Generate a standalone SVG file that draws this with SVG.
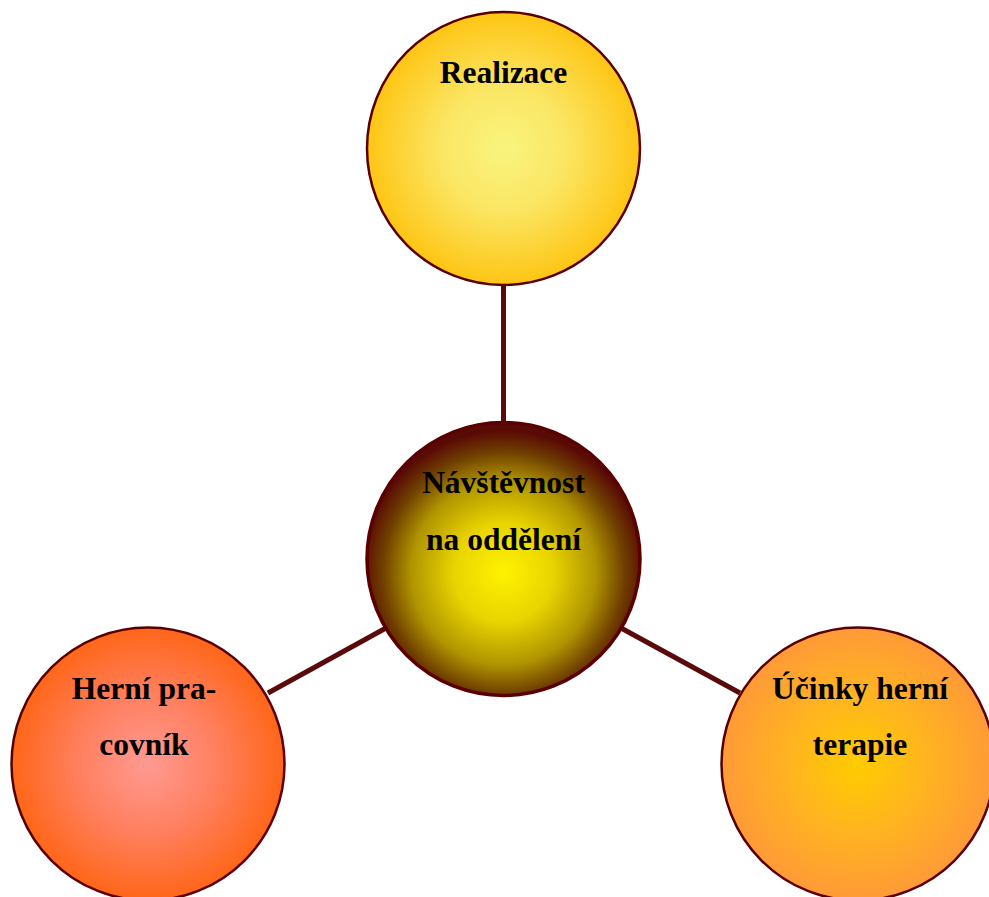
<svg xmlns="http://www.w3.org/2000/svg" width="989" height="897" viewBox="0 0 989 897">
<style>
.node circle{stroke:#5a0000;stroke-width:2.5}
.lbl{font-family:"Liberation Serif","Times New Roman",serif;font-weight:bold;font-size:31.5px;fill:#000;text-anchor:middle}
.conn line{stroke:#5a0a0a;stroke-width:5}
</style>
<defs>
<radialGradient id="gTop" cx="50%" cy="50%" r="50%">
<stop offset="0" stop-color="#f9f47e"/><stop offset="0.45" stop-color="#fbe664"/><stop offset="1" stop-color="#fec514"/>
</radialGradient>
<radialGradient id="gCenter" cx="50%" cy="55%" r="52%">
<stop offset="0" stop-color="#fff200"/><stop offset="0.35" stop-color="#e8d400"/><stop offset="0.65" stop-color="#b09400"/><stop offset="0.85" stop-color="#704000"/><stop offset="1" stop-color="#5a0a05"/>
</radialGradient>
<radialGradient id="gLeft" cx="50%" cy="50%" r="50%">
<stop offset="0" stop-color="#ff9a92"/><stop offset="0.5" stop-color="#ff8060"/><stop offset="1" stop-color="#ff6618"/>
</radialGradient>
<radialGradient id="gRight" cx="50%" cy="50%" r="50%">
<stop offset="0" stop-color="#ffcc00"/><stop offset="0.5" stop-color="#ffb420"/><stop offset="1" stop-color="#ff9a38"/>
</radialGradient>
</defs>
<g class="conn" id="connectors">
<line x1="503.5" y1="285" x2="503.5" y2="422"/>
<line x1="268" y1="693" x2="386" y2="628"/>
<line x1="621" y1="628" x2="740" y2="693"/>
</g>
<g class="node" id="node-realizace">
<circle cx="503.5" cy="148.5" r="136.5" fill="url(#gTop)"/>
<text class="lbl" x="503.5" y="83">Realizace</text>
</g>
<g class="node" id="node-navstevnost">
<circle cx="503.5" cy="559" r="136.5" fill="url(#gCenter)" style="stroke-width:3.5"/>
<text class="lbl" x="503.5" y="493">Návštěvnost</text>
<text class="lbl" x="503.5" y="550">na oddělení</text>
</g>
<g class="node" id="node-herni-pracovnik">
<circle cx="148" cy="764" r="136.5" fill="url(#gLeft)"/>
<text class="lbl" x="144" y="699">Herní pra-</text>
<text class="lbl" x="144" y="755">covník</text>
</g>
<g class="node" id="node-ucinky">
<circle cx="858" cy="764" r="136.5" fill="url(#gRight)"/>
<text class="lbl" x="860" y="699">Účinky herní</text>
<text class="lbl" x="860" y="755">terapie</text>
</g>
</svg>
